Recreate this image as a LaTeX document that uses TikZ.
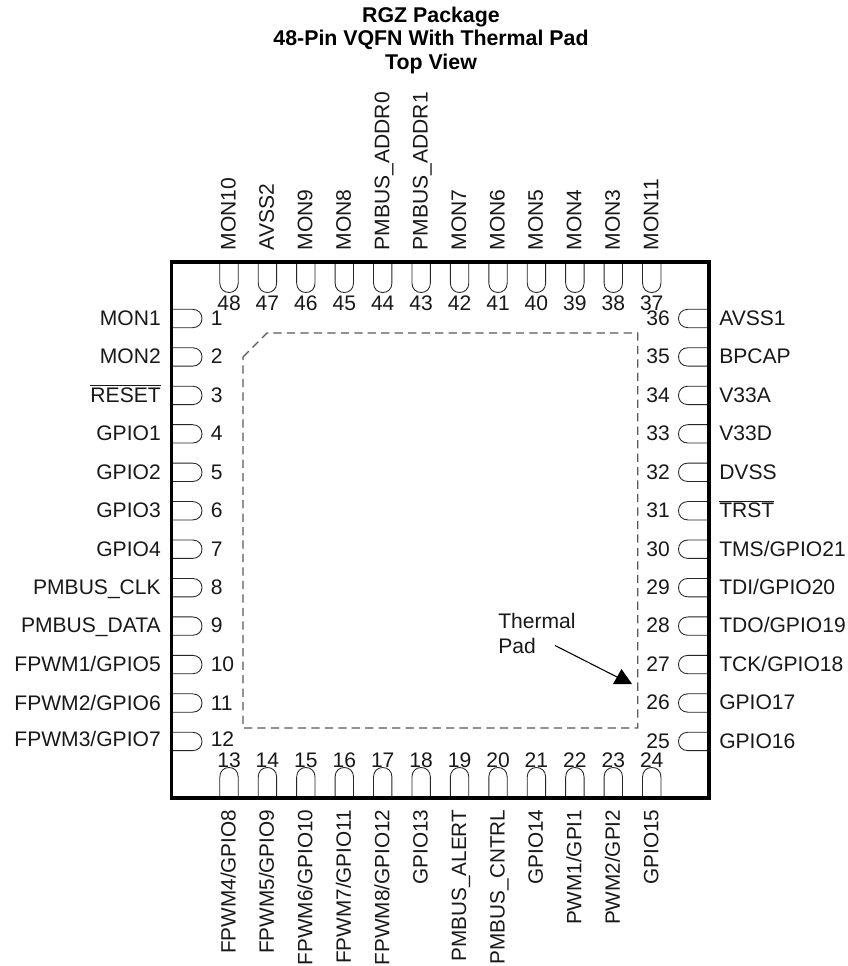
\documentclass[tikz,border=0pt]{standalone}
\usepackage{fontspec}
\setmainfont{Liberation Sans}
\tikzset{
  px/.style={x=0.75pt,y=-0.75pt},
  body/.style={line width=2.3pt,draw=black,miter limit=10},
  pinshape/.style={line width=0.65pt,draw=black!85},
  pad/.style={line width=1pt,draw=black!65,dash pattern=on 6.2pt off 3.9pt},
  lbl/.style={inner sep=0pt,font=\fontsize{15.8pt}{18pt}\selectfont,text height=11.3pt,text depth=0pt,text=black!90},
  vlbl/.style={lbl,rotate=90},
  vlblb/.style={vlbl,font=\fontsize{15.55pt}{18pt}\selectfont},
  ttl/.style={inner sep=0pt,font=\fontsize{16pt}{17.8pt}\selectfont\bfseries,align=center,text=black},
  leader/.style={line width=0.8pt,draw=black},
}
\newcommand{\pinoutline}{(0,-9.2) -- (21,-9.2) .. controls (27,-9.2) and (30.5,-5) .. (30.5,0) .. controls (30.5,5) and (27,9.2) .. (21,9.2) -- (0,9.2)}
\begin{document}
\begin{tikzpicture}[px]
\useasboundingbox (0,0) rectangle (847,966);
\fill[white] (0,0) rectangle (847,966);
\node[ttl,anchor=north] (title) at (431,6.5) {RGZ Package\\48-Pin VQFN With Thermal Pad\\Top View};
% thermal pad outline
\draw[pad] (243,357) -- (267,333) -- (637.7,333) -- (637.7,728) -- (243,728) -- cycle;
% left side
\foreach \i/\t/\dy in {1/MON1/-0.7,2/MON2/-0.7,3/{$\overline{\mbox{RESET}}$}/-0.7,4/GPIO1/-0.7,5/GPIO2/-0.7,6/GPIO3/-0.7,7/GPIO4/-0.7,8/PMBUS\_CLK/-0.7,9/PMBUS\_DATA/-0.7,10/FPWM1\slash GPIO5/-0.7,11/FPWM2\slash GPIO6/-0.3,12/FPWM3\slash GPIO7/-2.7}{
  \pgfmathsetmacro{\py}{318.5+38.45*(\i-1)}
  \draw[pinshape,shift={(171.5,\py)}] \pinoutline;
  \node[lbl,anchor=east] (l\i) at (161,\py+\dy) {\t};
  \node[lbl,anchor=west] (n\i) at (210.5,\py+\dy) {\i};
}
% right side
\foreach \i/\t in {36/AVSS1,35/BPCAP,34/V33A,33/V33D,32/DVSS,31/{$\overline{\mbox{TRST}}$},30/TMS\slash GPIO21,29/TDI\slash GPIO20,28/TDO\slash GPIO19,27/TCK\slash GPIO18,26/GPIO17,25/GPIO16}{
  \pgfmathsetmacro{\py}{318.5+38.45*(36-\i)}
  \draw[pinshape,shift={(709,\py)},xscale=-1] \pinoutline;
  \node[lbl,anchor=west] (l\i) at (719,\py-0.7) {\t};
  \node[lbl,anchor=east] (n\i) at (670,\py-0.7) {\i};
}
% top side
\foreach \i/\t in {48/MON10,47/AVSS2,46/MON9,45/MON8,44/PMBUS\_ADDR0,43/PMBUS\_ADDR1,42/MON7,41/MON6,40/MON5,39/MON4,38/MON3,37/MON11}{
  \pgfmathsetmacro{\px}{229+38.43*(48-\i)}
  \draw[pinshape,shift={(\px,262)},rotate=-90,yscale=-1] \pinoutline;
  \node[vlbl,anchor=west] (l\i) at (\px-1,250.5) {\t};
  \node[lbl] (n\i) at (\px,303) {\i};
}
% bottom side
\foreach \i/\t in {13/FPWM4\slash GPIO8,14/FPWM5\slash GPIO9,15/FPWM6\slash GPIO10,16/FPWM7\slash GPIO11,17/FPWM8\slash GPIO12,18/GPIO13,19/PMBUS\_ALERT,20/PMBUS\_CNTRL,21/GPIO14,22/PWM1\slash GPI1,23/PWM2\slash GPI2,24/GPIO15}{
  \pgfmathsetmacro{\px}{229+38.43*(\i-13)}
  \draw[pinshape,shift={(\px,798)},rotate=90,yscale=-1] \pinoutline;
  \node[vlblb,anchor=east] (l\i) at (\px-1,809.5) {\t};
  \node[lbl] (n\i) at (\px,760) {\i};
}
\draw[body] (171.5,262) rectangle (709,798);
% thermal pad callout
\node[inner sep=0pt,anchor=north west,align=left,text=black!90,font=\fontsize{15.8pt}{18.8pt}\selectfont] (tp) at (498,613) {Thermal\\Pad};
\coordinate (tail) at (555,645.5);
\coordinate (tip) at (619,678);
\draw[leader] (tail) -- (tip);
\fill[black] (621.5,669) -- (632,684) -- (613,684) -- cycle;
\end{tikzpicture}
\end{document}
